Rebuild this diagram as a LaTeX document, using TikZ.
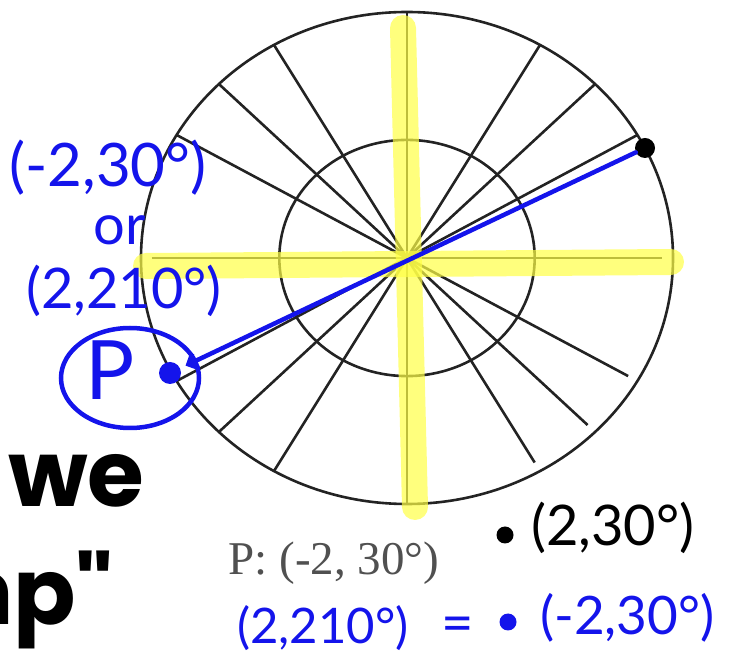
\documentclass[tikz,border=0pt]{standalone}
\usepackage{fontspec}
\setmainfont{Liberation Serif}
\newfontfamily\handfont{Lato}
\newfontfamily\slidefont{Poppins}
\usetikzlibrary{arrows.meta}
\definecolor{penblue}{RGB}{20,20,235}
\definecolor{hiyellow}{RGB}{255,255,70}
\definecolor{printgray}{RGB}{80,80,80}
\definecolor{gridgray}{RGB}{35,35,35}

\begin{document}
\begin{tikzpicture}[x=1pt, y=1pt,
    gridline/.style={draw=gridgray, line width=2.6pt},
    hilite/.style={draw=hiyellow, line width=26pt, line cap=round, opacity=0.7},
    bluepen/.style={draw=penblue, line width=4.5pt, line cap=round},
    bluehand/.style={text=penblue, font=\handfont\fontsize{56}{56}\selectfont, inner sep=0pt},
    blackhand/.style={text=black, font=\handfont\fontsize{56}{56}\selectfont, inner sep=0pt},
    dot/.style={circle, fill, inner sep=0pt}]
    \useasboundingbox (0,0) rectangle (731,664);

    % Polar grid
    \coordinate (O) at (407,406);
    \begin{scope}[shift={(O)}, xscale=266, yscale=246]
        \draw[gridline] (0,0) circle (1);
        \draw[gridline] (0,0) circle (0.48);
        \draw[gridline] (-0.96,0) -- (0.96,0);
        \draw[gridline] (0,-1) -- (0,1);
        \foreach \a in {30,45,60,120,135,150,210,225,240} {
            \draw[gridline] (0,0) -- (\a:1);
        }
        \foreach \a in {300,315,330} {
            \draw[gridline] (0,0) -- (\a:0.96);
        }
    \end{scope}

    % Highlighted axes
    \draw[hilite] (146,398) -- (671,402);
    \draw[hilite] (403,636) -- (415,157);

    % Points
    \node[dot, minimum size=20pt] (bdot) at (645,516) {};
    \node[dot, fill=penblue, minimum size=22pt] (pdot) at (170,291) {};
    \draw[bluepen, -{Straight Barb[length=8pt]}, shorten >=6pt] (bdot) -- (pdot);
    \draw[penblue, line width=4.5pt] (130,286) ellipse (69 and 50);
    \node[bluehand, font=\handfont\fontsize{82}{82}\selectfont] (plabel) at (110,294) {P};

    % Labels left
    \node[bluehand, font=\handfont\fontsize{60}{60}\selectfont] (polar1) at (108,496) {(-2,30°)};
    \node[bluehand] (ortext) at (120,434) {or};
    \node[bluehand] (polar2) at (124,373) {(2,210°)};

    % Labels below
    \node[font=\fontsize{47}{47}\selectfont, text=printgray, inner sep=0pt] (caption) at (334,101) {P: (-2, 30°)};
    \node[dot, minimum size=17pt] (sdot) at (505,129) {};
    \node[blackhand, anchor=west] (pos1) at (531,136) {(2,30°)};
    \node[bluehand, font=\handfont\fontsize{49}{49}\selectfont, anchor=west] (eq1) at (237,36) {(2,210°)};
    \node[bluehand] (eqsign) at (458,34) {=};
    \node[dot, fill=penblue, minimum size=17pt] (bdot2) at (508,42) {};
    \node[bluehand, font=\handfont\fontsize{53}{53}\selectfont, anchor=west] (pos2) at (540,46) {(-2,30°)};

    % Slide text
    \node[font=\slidefont\bfseries\fontsize{92}{92}\selectfont, anchor=base west, inner sep=0pt] (weword) at (8,157) {we};
    \node[font=\slidefont\bfseries\fontsize{92}{92}\selectfont, anchor=base east, inner sep=0pt] (mpword) at (114,39) {mp"};
\end{tikzpicture}
\end{document}
